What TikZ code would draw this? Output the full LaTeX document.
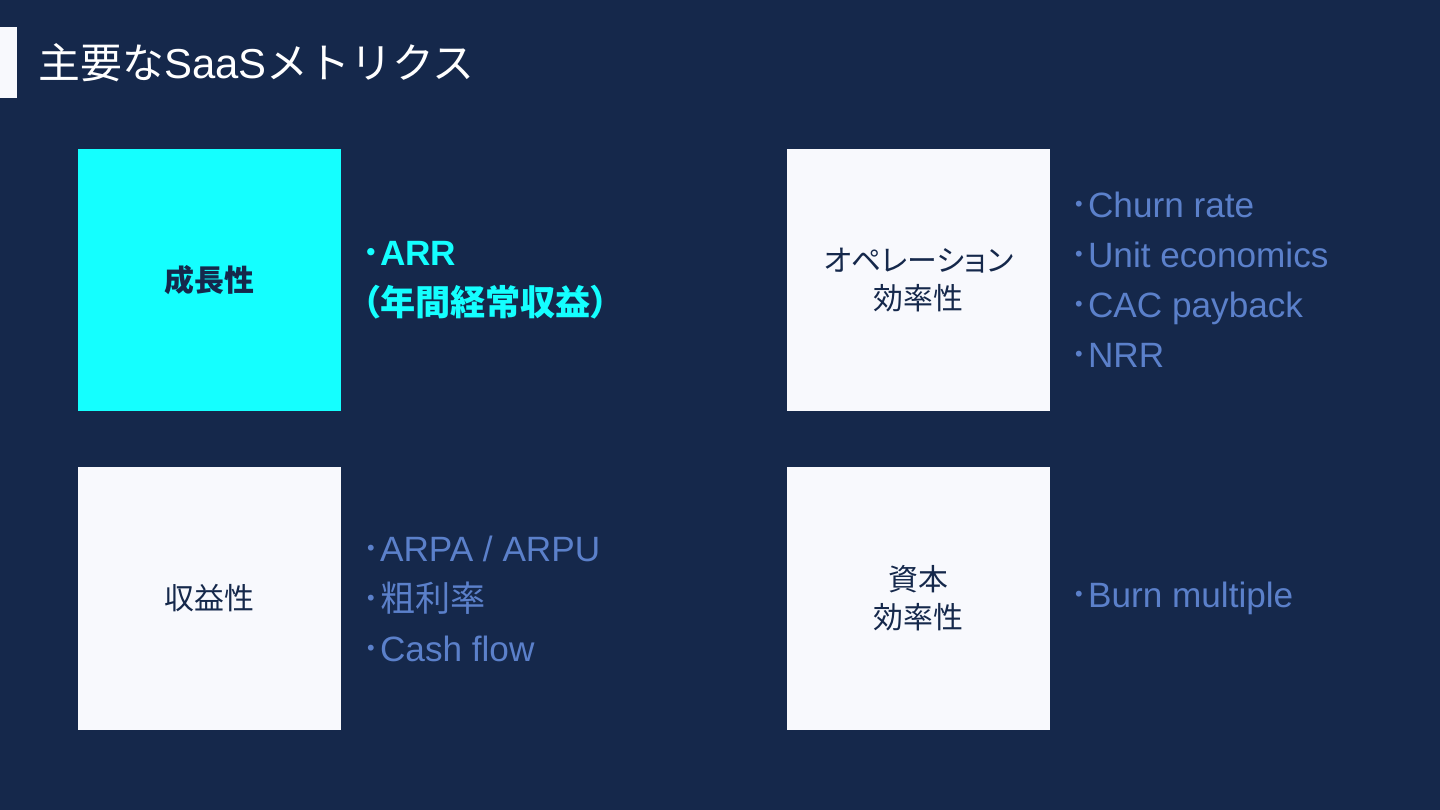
\documentclass[tikz,border=0pt]{standalone}
\usepackage{fontspec}
\setmainfont{Liberation Sans}
\newfontfamily\jp{Noto Sans CJK JP}
\newfontfamily\jpp[RawFeature=+palt]{Noto Sans CJK JP}
\usetikzlibrary{positioning}

\definecolor{navy}{HTML}{15284B}
\definecolor{aqua}{HTML}{14FFFF}
\definecolor{paper}{HTML}{F8F9FD}
\definecolor{sky}{HTML}{5B80CA}
\newcommand{\bul}{{\jp ･}}

\begin{document}
\begin{tikzpicture}[x=0.01cm,y=-0.01cm,
    card/.style={minimum width=2.63cm,minimum height=2.62cm,inner sep=0pt,align=center,
      text=navy,fill=paper,font=\fontsize{8.5}{10.8}\selectfont\jp},
    items/.style={anchor=west,inner sep=0pt,align=left,text=sky,
      font=\fontsize{10}{14.2}\selectfont}]
    \fill[navy] (0,0) rectangle (1440,810);
    \fill[paper] (0,27) rectangle (17,98);
    \node[anchor=west,inner sep=0pt,text=white,font=\fontsize{11.9}{14}\selectfont] (title) at (38,63)
        {{\jp 主要な}SaaS{\jp メトリクス}};

    \node[card,fill=aqua,font=\fontsize{8.5}{10.8}\selectfont\jp\bfseries] (growth) at (209.5,280) {成長性};
    \node[card] (ops) at (918.5,280) {{\jpp オペレーション}\\効率性};
    \node[card] (profit) at (209.5,598.5) {収益性};
    \node[card] (capital) at (918.5,598.5) {資本\\効率性};

    \node[items,text=aqua,font=\fontsize{10}{14.2}\selectfont\bfseries,right=0.2cm of growth] (growthList)
        {\bul ARR\\{\jpp （年間経常収益）}};
    \node[items,right=0.19cm of ops] (opsList)
        {\bul Churn rate\\\bul Unit economics\\\bul CAC payback\\\bul NRR};
    \node[items,right=0.2cm of profit] (profitList)
        {\bul ARPA / ARPU\\\bul{\jp 粗利率}\\\bul Cash flow};
    \node[items,right=0.19cm of capital] (capitalList)
        {\bul Burn multiple};
\end{tikzpicture}
\end{document}
